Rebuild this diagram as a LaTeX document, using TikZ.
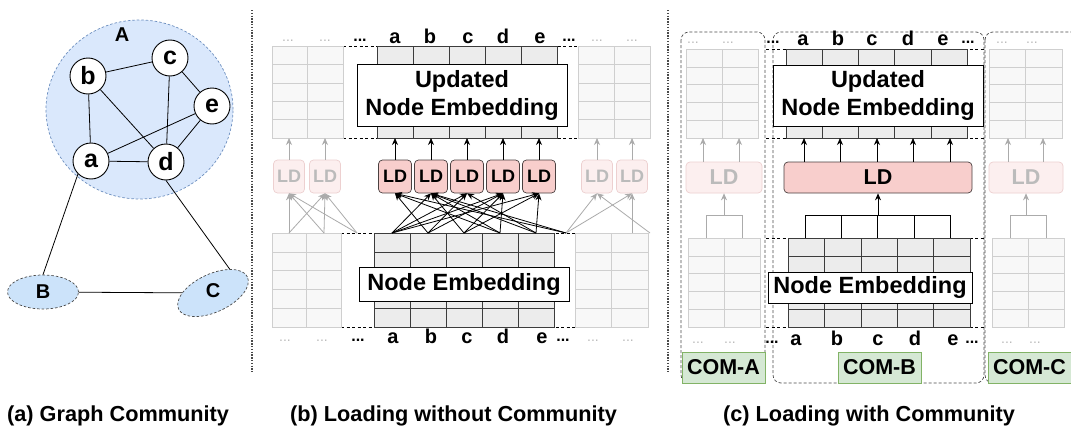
\documentclass[tikz,border=0pt]{standalone}
\usepackage{fontspec}
\setmainfont{Liberation Sans}
\usetikzlibrary{arrows.meta,shapes.geometric,calc}

\definecolor{blueFill}{HTML}{DAE8FC}
\definecolor{blueLine}{HTML}{6C8EBF}
\definecolor{comFill}{HTML}{CCE3FA}
\definecolor{ldFill}{HTML}{F8CECC}
\definecolor{ldLine}{HTML}{4A4040}
\definecolor{ldFaint}{HTML}{FCEFEF}
\definecolor{ldFaintLine}{HTML}{EDD0D0}
\definecolor{cellFill}{HTML}{ECECEC}
\definecolor{cellLine}{HTML}{3C3C3C}
\definecolor{ghostFill}{HTML}{F8F8F8}
\definecolor{ghostLine}{HTML}{CFCFCF}
\definecolor{ghostText}{HTML}{BBBBBB}
\definecolor{ghostArrow}{HTML}{ABABAB}
\definecolor{greenFill}{HTML}{D5E8D4}
\definecolor{greenLine}{HTML}{82B366}
\definecolor{sepGray}{HTML}{4A4A4A}

\newcommand{\fsz}[1]{\fontsize{#1}{#1}\selectfont}
% grid of cells: x0, y0, cell width, cell height, columns, rows, style
\newcommand{\cellgrid}[7]{%
  \foreach \ci in {1,...,#5}{\foreach \rj in {1,...,#6}{%
    \draw[#7] ({#1+(\ci-1)*#3},{#2+(\rj-1)*#4}) rectangle ++(#3,#4);}}}

\begin{document}
\begin{tikzpicture}[x=1pt,y=-1pt,
  vert/.style={circle, draw, fill=white, line width=0.9pt, minimum size=36pt, inner sep=0pt, font=\bfseries\fsz{25}},
  cname/.style={font=\bfseries\fsz{20}, inner sep=0pt},
  cell/.style={draw=cellLine, fill=cellFill, line width=0.6pt},
  ghost/.style={draw=ghostLine, fill=ghostFill, line width=0.6pt},
  dline/.style={line width=0.7pt, dash pattern=on 3pt off 2.5pt},
  embox/.style={draw, fill=white, line width=0.8pt, inner sep=0pt, align=center, font=\bfseries\fontsize{23.5}{28}\selectfont},
  ldbox/.style={draw=ldLine, fill=ldFill, rounded corners=4pt, line width=0.7pt, inner sep=0pt, minimum height=33pt, font=\bfseries\fsz{18}},
  ldghost/.style={draw=ldFaintLine, fill=ldFaint, text=ghostText, rounded corners=4pt, line width=0.7pt, inner sep=0pt, minimum height=33pt, font=\bfseries\fsz{18}},
  arr/.style={-{Stealth[length=7pt,width=6pt]}, line width=0.8pt},
  garr/.style={arr, draw=ghostArrow},
  letter/.style={font=\bfseries\fsz{20}, inner sep=0pt, anchor=base},
  bdots/.style={font=\bfseries\fsz{16}, inner sep=0pt, anchor=base},
  gdots/.style={font=\fsz{14}, text=ghostText, inner sep=0pt, anchor=base},
  comlbl/.style={draw=greenLine, fill=greenFill, line width=0.8pt, minimum width=83pt, minimum height=31pt, inner sep=0pt, font=\bfseries\fsz{21.5}},
  combox/.style={draw=sepGray, line width=0.7pt, dash pattern=on 3pt off 2pt, rounded corners=8pt},
  sep/.style={draw=sepGray, line width=1.3pt, dash pattern=on 1.4pt off 1.4pt},
  caption/.style={font=\bfseries\fsz{21.7}, inner sep=0pt, anchor=base west}]

\clip (0,0) rectangle (1071,431);
\fill[white] (0,0) rectangle (1071,431);

% ================= (a) graph community =================
\node[ellipse, draw=blueLine, fill=blueFill, line width=0.7pt, dash pattern=on 2.5pt off 2pt,
      minimum width=187pt, minimum height=179pt, inner sep=0pt] (comA) at (139.5,109.5) {};
\node[cname] (labA) at (122,35) {A};

\node[vert] (b) at (88,76) {b};
\node[vert] (c) at (170,58) {c};
\node[vert] (e) at (212,106) {e};
\node[vert] (a) at (91,161) {a};
\node[vert] (d) at (166,162) {d};

\node[ellipse, draw=sepGray, fill=comFill, line width=0.7pt, dash pattern=on 2.5pt off 2pt,
      minimum width=71pt, minimum height=34pt, inner sep=0pt, font=\bfseries\fsz{20}] (B) at (43,292) {B};
\node[ellipse, draw=sepGray, fill=comFill, line width=0.7pt, dash pattern=on 2.5pt off 2pt,
      minimum width=76pt, minimum height=38pt, inner sep=0pt, rotate=25] (C) at (213,293) {};
\node[cname] (labC) at (213,291) {C};

\begin{scope}[line width=0.8pt]
  \draw (b) -- (c);
  \draw (c) -- (e);
  \draw (b) -- (a);
  \draw (b) -- (d);
  \draw (c) -- (d);
  \draw (a) -- (e);
  \draw (a) -- (d);
  \draw (e) -- (d);
  \draw (a.225) -- (B.north);
  \draw (d.south) -- (C.30);
  \draw (B) -- (C);
\end{scope}

% ================= (b) loading without community =================
% dashed borders of the loaded block
\draw[dline] (343,46) -- (578,46);
\draw[dline] (343,138) -- (578,138);
\draw[dline] (341,233) -- (575,233);
\draw[dline] (341,327) -- (575,327);

% embedding tables
\cellgrid{272}{46}{35.5}{18.4}{2}{5}{ghost}
\cellgrid{578}{46}{36}{18.4}{2}{5}{ghost}
\cellgrid{377}{46}{36}{18.4}{5}{5}{cell}
\cellgrid{272}{233}{34.5}{18.8}{2}{5}{ghost}
\cellgrid{575}{233}{36.5}{18.8}{2}{5}{ghost}
\cellgrid{374}{233}{36}{18.8}{5}{5}{cell}

\node[embox, minimum width=210pt, minimum height=62pt] (upd1) at (462,95) {Updated\\Node Embedding};
\node[embox, minimum width=210pt, minimum height=34pt] (emb1) at (464,284) {Node Embedding};

% column labels
\foreach \x/\t [count=\k] in {395/a,430/b,468/c,503/d,540/e}
  \node[letter] (tb\k) at (\x,43) {\t};
\foreach \x/\t [count=\k] in {393/a,431/b,467/c,503/d,542/e}
  \node[letter] (bb\k) at (\x,343) {\t};
\node[bdots] (tbl) at (360,41) {...};
\node[bdots] (tbr) at (569,41) {...};
\node[bdots] (bbl) at (358,341) {...};
\node[bdots] (bbr) at (563,341) {...};
\foreach \x [count=\k] in {288,325,597,632} \node[gdots] (tgd\k) at (\x,41) {...};
\foreach \x [count=\k] in {285,322,593,628} \node[gdots] (bgd\k) at (\x,341) {...};

% LD units
\foreach \x [count=\k] in {395,431,467,503,539}
  \node[ldbox, minimum width=33pt] (ld\k) at (\x,176.5) {LD};
\foreach \x/\n in {289/gl1,325/gl2,597/gr1,632/gr2}
  \node[ldghost, minimum width=31pt] (\n) at (\x,176.5) {LD};

% outputs into the updated table
\foreach \x [count=\k] in {395,431,467,503,539} \coordinate (t\k) at (\x,138);
\foreach \k in {1,...,5} \draw[arr] (ld\k.north) -- (t\k);
\foreach \n in {gl1,gl2,gr1,gr2} \draw[garr] (\n.north) -- (\n.north |- t1);

% inputs from the node table
\foreach \x [count=\k] in {392,428,464,500,536} \coordinate (s\k) at (\x,233);
\coordinate (sL) at (357,233);
\coordinate (sR) at (566,233);
\coordinate (gs1) at (289,233);
\coordinate (gs2) at (324,233);
\coordinate (gs3) at (632,233);
\coordinate (gs4) at (650,233);
\foreach \s/\t in {gs1/gl1,gs1/gl2,gs2/gl1,gs2/gl2,sL/gl1,sL/gl2,gs3/gr2,gs4/gr1,sR/gr1,sR/gr2}
  \draw[garr] (\s) -- (\t.south);
\foreach \s/\t in {s1/ld2,s1/ld3,s1/ld4,s1/ld5,s2/ld1,s2/ld3,s2/ld4,s3/ld2,s3/ld4,s3/ld5,
                   s4/ld1,s4/ld2,s4/ld4,s5/ld2,s5/ld3,s5/ld5,sR/ld1,sR/ld2}
  \draw[arr] (\s) -- (\t.south);

% ================= (c) loading with community =================
\draw[combox] (681,32) rectangle (765,383);
\draw[combox] (773,32) rectangle (984,383);
\draw[combox] (985,32) rectangle (1090,383);

\draw[dline] (766,49) -- (984,49);
\draw[dline] (766,138) -- (984,138);
\draw[dline] (766,238) -- (984,238);
\draw[dline] (766,327) -- (984,327);

\cellgrid{686}{49}{36}{17.8}{2}{5}{ghost}
\cellgrid{989}{49}{36.5}{17.8}{2}{5}{ghost}
\cellgrid{786}{49}{36.2}{17.8}{5}{5}{cell}
\cellgrid{688}{238}{36}{17.8}{2}{5}{ghost}
\cellgrid{992}{238}{36}{17.8}{2}{5}{ghost}
\cellgrid{788}{238}{36.4}{17.8}{5}{5}{cell}

\node[embox, minimum width=210pt, minimum height=61pt] (upd2) at (878,95.5) {Updated\\Node Embedding};
\node[embox, minimum width=204pt, minimum height=31pt] (emb2) at (870,287.5) {Node Embedding};

\foreach \x/\t [count=\k] in {803/a,838/b,872/c,908/d,943/e}
  \node[letter] (tc\k) at (\x,45) {\t};
\foreach \x/\t [count=\k] in {796/a,837/b,878/c,915/d,953/e}
  \node[letter] (bc\k) at (\x,345) {\t};
\node[bdots] (tcl) at (773,43) {...};
\node[bdots] (tcr) at (968,43) {...};
\node[bdots] (bcl) at (772,343) {...};
\node[bdots] (bcr) at (972,343) {...};
\foreach \x [count=\k] in {693,728,1002,1032} \node[gdots] (tcg\k) at (\x,43) {...};
\foreach \x [count=\k] in {698,730,1007,1035} \node[gdots] (bcg\k) at (\x,343) {...};

\node[ldbox, minimum width=188pt, minimum height=31pt, font=\bfseries\fsz{21.5}] (LDc) at (878,177.5) {LD};
\node[ldghost, minimum width=76pt, minimum height=31pt, font=\bfseries\fsz{21.5}] (gLA) at (724,177.5) {LD};
\node[ldghost, minimum width=74pt, minimum height=31pt, font=\bfseries\fsz{21.5}] (gLC) at (1026,177.5) {LD};

% outputs of the shared LD unit
\foreach \x [count=\k] in {804,840,877,913,950} \coordinate (u\k) at (\x,138);
\foreach \k in {1,...,5} \draw[arr] (u\k |- LDc.north) -- (u\k);
\coordinate (ga1) at (703,138);
\coordinate (ga2) at (739,138);
\coordinate (gc1) at (1008,138);
\coordinate (gc2) at (1043,138);
\foreach \n in {ga1,ga2} \draw[garr] (\n |- gLA.north) -- (\n);
\foreach \n in {gc1,gc2} \draw[garr] (\n |- gLC.north) -- (\n);

% grouped inputs of each community
\coordinate (hb) at (0,215);
\foreach \x [count=\k] in {805,841,877,914,950} \coordinate (v\k) at (\x,238);
\draw[line width=0.8pt] (v1) -- (v1 |- hb) -- (v5 |- hb) -- (v5);
\foreach \k in {2,3,4} \draw[line width=0.8pt] (v\k) -- (v\k |- hb);
\draw[arr] (LDc.south |- hb) -- (LDc.south);

\coordinate (wa1) at (706,238);
\coordinate (wa2) at (742,238);
\coordinate (wc1) at (1010,238);
\coordinate (wc2) at (1046,238);
\draw[draw=ghostArrow, line width=0.8pt] (wa1) -- (wa1 |- hb) -- (wa2 |- hb) -- (wa2);
\draw[draw=ghostArrow, line width=0.8pt] (wc1) -- (wc1 |- hb) -- (wc2 |- hb) -- (wc2);
\draw[garr] (gLA.south |- hb) -- (gLA.south);
\draw[garr] (gLC.south |- hb) -- (gLC.south);

\node[comlbl] (lblA) at (723.5,367.5) {COM-A};
\node[comlbl] (lblB) at (879.5,367.5) {COM-B};
\node[comlbl] (lblC) at (1029.5,367.5) {COM-C};

% ================= panel separators and captions =================
\draw[sep] (252,10) -- (252,372);
\draw[sep] (668,10) -- (668,372);

\node[caption] (capa) at (7,421) {(a) Graph Community};
\node[caption] (capb) at (290,421) {(b) Loading without Community};
\node[caption] (capc) at (723,421) {(c) Loading with Community};
\end{tikzpicture}
\end{document}
